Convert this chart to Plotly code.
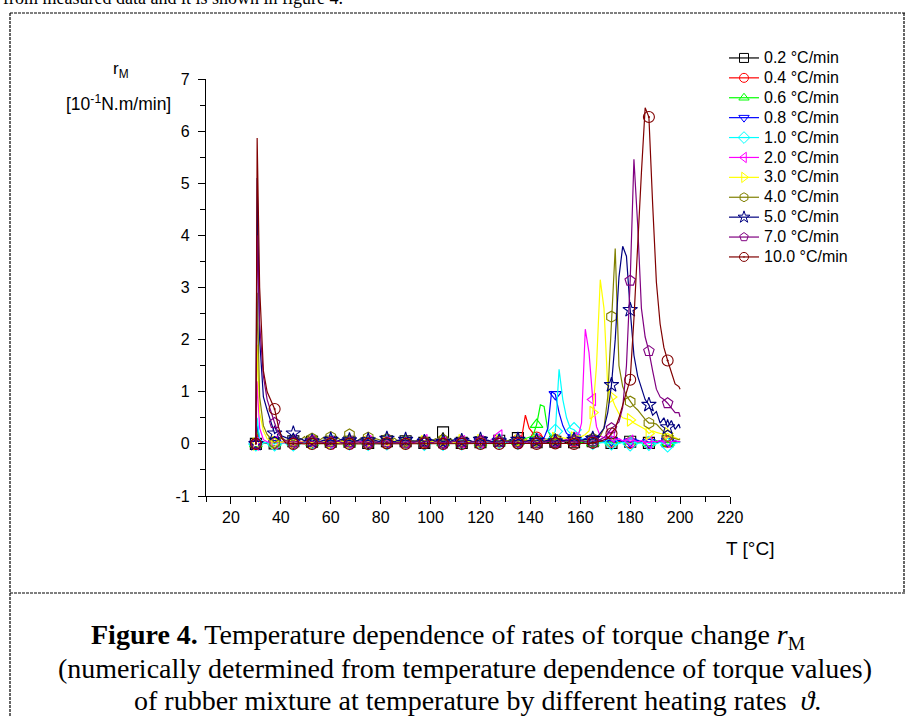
import plotly.graph_objects as go

# temperature grid [°C]; symbols are drawn every 7.5 °C
T = [30, 30.5] + [31.5 + 1.5 * k for k in range(113)] + [200]
MARKER_IDX = [0] + [5 * j + 1 for j in range(1, 23)]

LABELS = ['0.2 °C/min', '0.4 °C/min', '0.6 °C/min', '0.8 °C/min', '1.0 °C/min', '2.0 °C/min',
          '3.0 °C/min', '4.0 °C/min', '5.0 °C/min', '7.0 °C/min', '10.0 °C/min']

Y_TICKS = [-1, 0, 1, 2, 3, 4, 5, 6, 7]
Y_TICKTEXT = ['-1', '0', '1', '2', '3', '4', '5', '6', '7']

r_02 = [0, 0.12, 0.05, 0.03, 0.02, 0.02, 0.01, 0.03, 0.02, 0.04,
        0.03, 0.05, 0.02, 0.04, 0.03, 0.02, 0.04, 0.03, 0.05, 0.02,
        0.03, 0.04, 0.02, 0.05, 0.03, 0.02, 0.04, 0.03, 0.02, 0.05,
        0.03, 0.02, 0.04, 0.06, 0.03, 0.02, 0.05, 0.03, 0.04, 0.02,
        0.03, 0.05, 0.02, 0.04, 0.03, 0.06, 0.02, 0.04, 0.03, 0.05,
        0.08, 0.22, 0.04, 0.1, 0.03, 0.09, 0.02, 0.05, 0.03, 0.04,
        0.02, 0.03, 0.05, 0.02, 0.04, 0.03, 0.06, 0.04, 0.05, 0.08,
        0.03, 0.11, 0.05, 0.09, 0.04, 0.08, 0.03, 0.05, 0.04, 0.03,
        0.02, 0.04, 0.03, 0.05, 0.02, 0.04, 0.03, 0.05, 0.02, 0.04,
        0.03, 0.05, 0.02, 0.04, 0.03, 0.06, 0.02, 0.04, 0.03, 0.05,
        0.02, 0.04, 0.03, 0.05, 0.03, 0.04, 0.02, 0.05, 0.03, 0.04,
        0.03, 0.05, 0.02, 0.04, 0.03, 0.04]
r_04 = [0, 0.2, 0.04, 0.02, 0.01, 0.02, 0.01, 0.02, 0.03, 0.02,
        0.04, 0.02, 0.03, 0.05, 0.02, 0.03, 0.04, 0.02, 0.03, 0.05,
        0.02, 0.04, 0.03, 0.02, 0.05, 0.03, 0.04, 0.02, 0.03, 0.04,
        0.02, 0.05, 0.03, 0.04, 0.02, 0.06, 0.03, 0.02, 0.04, 0.03,
        0.05, 0.02, 0.04, 0.03, 0.02, 0.05, 0.03, 0.04, 0.02, 0.03,
        0.04, 0.02, 0.05, 0.03, 0.04, 0.02, 0.03, 0.05, 0.02, 0.04,
        0.03, 0.02, 0.04, 0.03, 0.05, 0.02, 0.04, 0.06, 0.03, 0.05,
        0.04, 0.07, 0.12, 0.55, 0.3, 0.2, 0.12, 0.16, 0.1, 0.08,
        0.06, 0.08, 0.05, 0.07, 0.04, 0.06, 0.05, 0.03, 0.06, 0.04,
        0.05, 0.03, 0.04, 0.06, 0.03, 0.05, 0.04, 0.02, 0.05, 0.03,
        0.04, 0.02, 0.05, 0.03, 0.04, 0.06, 0.02, 0.04, 0.03, 0.05,
        0.03, 0.04, 0.02, 0.05, 0.03, 0.04]
r_06 = [0, 0.3, 0.05, 0.02, 0.03, 0.01, 0.02, 0.03, 0.02, 0.04,
        0.02, 0.03, 0.05, 0.02, 0.03, 0.04, 0.02, 0.05, 0.03, 0.02,
        0.04, 0.03, 0.05, 0.02, 0.04, 0.03, 0.02, 0.05, 0.03, 0.04,
        0.02, 0.03, 0.05, 0.02, 0.04, 0.03, 0.06, 0.02, 0.04, 0.03,
        0.02, 0.05, 0.03, 0.04, 0.02, 0.03, 0.05, 0.02, 0.04, 0.03,
        0.05, 0.02, 0.04, 0.03, 0.02, 0.05, 0.03, 0.04, 0.02, 0.03,
        0.04, 0.02, 0.05, 0.03, 0.04, 0.06, 0.03, 0.05, 0.04, 0.06,
        0.05, 0.04, 0.08, 0.1, 0.12, 0.15, 0.37, 0.75, 0.72, 0.25,
        0.12, 0.08, 0.1, 0.06, 0.05, 0.07, 0.04, 0.06, 0.03, 0.05,
        0.04, 0.02, 0.05, 0.03, 0.04, 0.06, 0.03, 0.05, 0.02, 0.04,
        0.03, 0.05, 0.02, 0.04, 0.03, 0.05, 0.02, 0.04, 0.06, 0.03,
        0.05, 0.02, 0.04, 0.03, 0.05, 0.04]
r_08 = [0, 0.4, 0.06, 0.03, 0.02, 0.03, 0.01, 0.02, 0.04, 0.02,
        0.03, 0.02, 0.04, 0.03, 0.05, 0.02, 0.03, 0.04, 0.02, 0.05,
        0.03, 0.02, 0.04, 0.03, 0.05, 0.02, 0.03, 0.04, 0.06, 0.02,
        0.04, 0.03, 0.02, 0.05, 0.03, 0.04, 0.02, 0.06, 0.03, 0.04,
        0.02, 0.05, 0.03, 0.02, 0.04, 0.03, 0.05, 0.02, 0.04, 0.03,
        0.06, 0.02, 0.04, 0.03, 0.05, 0.02, 0.04, 0.03, 0.02, 0.05,
        0.03, 0.04, 0.02, 0.05, 0.03, 0.04, 0.06, 0.03, 0.05, 0.04,
        0.06, 0.03, 0.05, 0.04, 0.06, 0.05, 0.07, 0.09, 0.12, 0.3,
        1.0, 0.95, 0.6, 0.35, 0.2, 0.15, 0.12, 0.1, 0.08, 0.1,
        0.07, 0.09, 0.06, 0.08, 0.05, 0.07, 0.06, 0.04, 0.07, 0.05,
        0.06, 0.04, 0.05, 0.07, 0.04, 0.06, 0.03, 0.05, 0.04, 0.06,
        0.03, 0.05, 0.04, 0.06, 0.04, 0.05]
r_10 = [0, 0.5, 0.08, 0.03, 0.02, 0.01, 0.0, 0.02, 0.01, 0.03,
        0.02, 0.0, 0.03, 0.02, 0.04, 0.01, 0.03, 0.02, 0.0, 0.03,
        0.02, 0.04, 0.01, 0.03, 0.02, 0.05, 0.02, 0.01, 0.03, 0.02,
        0.04, 0.01, 0.03, 0.02, 0.0, 0.03, 0.02, 0.04, 0.01, 0.03,
        0.02, 0.03, 0.01, 0.04, 0.02, 0.03, 0.01, 0.02, 0.04, 0.02,
        0.03, 0.01, 0.04, 0.02, 0.03, 0.01, 0.02, 0.04, 0.02, 0.03,
        0.01, 0.03, 0.02, 0.04, 0.02, 0.03, 0.05, 0.02, 0.04, 0.03,
        0.05, 0.03, 0.04, 0.06, 0.04, 0.05, 0.07, 0.06, 0.08, 0.1,
        0.15, 0.24, 1.43, 0.85, 0.5, 0.3, 0.27, 0.2, 0.1, 0.06,
        0.05, 0.03, 0.04, 0.02, 0.03, 0.01, 0.02, -0.02, 0.01, 0.03,
        0.02, 0.0, 0.03, 0.01, 0.02, 0.04, 0.01, 0.02, 0.0, 0.03,
        0.01, -0.02, 0.02, 0.01, 0.03, 0.02]
r_20 = [0, 1.2, 0.3, 0.08, 0.04, 0.02, 0.03, 0.05, 0.02, 0.04,
        0.03, 0.05, 0.02, 0.04, 0.06, 0.03, 0.05, 0.02, 0.04, 0.03,
        0.05, 0.02, 0.04, 0.06, 0.03, 0.05, 0.02, 0.04, 0.03, 0.05,
        0.02, 0.04, 0.03, 0.05, 0.02, 0.04, 0.06, 0.03, 0.05, 0.02,
        0.04, 0.03, 0.05, 0.02, 0.04, 0.03, 0.06, 0.02, 0.04, 0.03,
        0.05, 0.02, 0.04, 0.03, 0.05, 0.02, 0.04, 0.06, 0.03, 0.05,
        0.02, 0.04, 0.03, 0.05, 0.08, 0.12, 0.15, 0.08, 0.05, 0.04,
        0.06, 0.03, 0.05, 0.04, 0.06, 0.05, 0.07, 0.05, 0.08, 0.06,
        0.07, 0.05, 0.08, 0.06, 0.09, 0.07, 0.1, 0.12, 0.4, 2.2,
        1.75, 0.85, 0.33, 0.15, 0.12, 0.1, 0.15, 0.08, 0.1, 0.06,
        0.08, 0.05, 0.07, 0.04, 0.06, 0.03, 0.03, 0.05, 0.04, 0.06,
        0.03, 0.05, 0.04, 0.06, 0.04, 0.05]
r_30 = [0, 1.9, 0.6, 0.25, 0.1, 0.05, 0.03, 0.05, 0.03, 0.06,
        0.04, 0.02, 0.05, 0.03, 0.06, 0.04, 0.02, 0.05, 0.03, 0.04,
        0.06, 0.03, 0.05, 0.02, 0.04, 0.06, 0.03, 0.05, 0.04, 0.02,
        0.05, 0.03, 0.06, 0.04, 0.02, 0.05, 0.03, 0.04, 0.06, 0.03,
        0.05, 0.02, 0.04, 0.06, 0.03, 0.05, 0.04, 0.02, 0.05, 0.03,
        0.06, 0.04, 0.03, 0.05, 0.02, 0.04, 0.06, 0.03, 0.05, 0.04,
        0.03, 0.06, 0.04, 0.05, 0.03, 0.07, 0.05, 0.04, 0.06, 0.05,
        0.07, 0.05, 0.06, 0.08, 0.06, 0.07, 0.05, 0.08, 0.06, 0.09,
        0.07, 0.1, 0.08, 0.12, 0.1, 0.13, 0.11, 0.15, 0.14, 0.18,
        0.25, 0.6, 1.5, 3.15, 2.6, 1.1, 0.9, 0.72, 0.58, 0.5,
        0.48, 0.46, 0.4, 0.36, 0.33, 0.28, 0.2, 0.25, 0.22, 0.2,
        0.18, 0.2, 0.15, 0.12, 0.1, 0.08]
r_40 = [0, 2.9, 0.9, 0.35, 0.18, 0.1, 0.02, 0.08, 0.12, 0.06,
        0.1, 0.05, 0.12, 0.08, 0.14, 0.06, 0.1, 0.15, 0.07, 0.12,
        0.05, 0.13, 0.08, 0.11, 0.06, 0.12, 0.18, 0.09, 0.05, 0.11,
        0.07, 0.12, 0.05, 0.1, 0.08, 0.04, 0.09, 0.06, 0.11, 0.05,
        0.08, 0.06, 0.1, 0.04, 0.07, 0.09, 0.05, 0.08, 0.06, 0.1,
        0.05, 0.08, 0.06, 0.09, 0.04, 0.07, 0.05, 0.08, 0.06, 0.04,
        0.07, 0.05, 0.08, 0.06, 0.04, 0.07, 0.05, 0.08, 0.06, 0.05,
        0.07, 0.05, 0.08, 0.06, 0.05, 0.07, 0.06, 0.08, 0.05, 0.07,
        0.06, 0.08, 0.05, 0.07, 0.06, 0.08, 0.07, 0.09, 0.06, 0.08,
        0.07, 0.1, 0.08, 0.15, 0.3, 0.9, 2.44, 3.75, 1.5, 1.1,
        0.92, 0.81, 0.72, 0.65, 0.55, 0.47, 0.4, 0.4, 0.38, 0.3,
        0.22, 0.15, 0.12, 0.1, 0.08, 0.1]
r_50 = [0, 5.1, 2.0, 0.9, 0.65, 0.42, 0.2, 0.25, 0.15, 0.12,
        0.1, 0.2, 0.08, 0.1, 0.06, 0.09, 0.05, 0.08, 0.04, 0.07,
        0.05, 0.08, 0.04, 0.06, 0.09, 0.05, 0.07, 0.04, 0.06, 0.08,
        0.05, 0.07, 0.04, 0.06, 0.05, 0.08, 0.1, 0.06, 0.04, 0.07,
        0.05, 0.08, 0.04, 0.06, 0.05, 0.07, 0.04, 0.06, 0.08, 0.05,
        0.07, 0.04, 0.06, 0.05, 0.08, 0.04, 0.06, 0.05, 0.07, 0.04,
        0.06, 0.08, 0.05, 0.07, 0.04, 0.06, 0.05, 0.07, 0.04, 0.06,
        0.05, 0.08, 0.06, 0.04, 0.07, 0.05, 0.06, 0.08, 0.05, 0.07,
        0.06, 0.05, 0.08, 0.06, 0.07, 0.05, 0.08, 0.06, 0.07, 0.09,
        0.08, 0.1, 0.12, 0.2, 0.3, 0.6, 1.13, 2.0, 3.2, 3.79,
        3.6, 2.57, 1.7, 1.3, 1.05, 0.85, 0.75, 0.55, 0.62, 0.4,
        0.5, 0.32, 0.45, 0.28, 0.38, 0.3]
r_70 = [0, 4.0, 2.3, 1.3, 0.85, 0.6, 0.4, 0.2, 0.1, 0.06,
        0.04, 0.03, 0.05, 0.02, 0.04, 0.03, 0.05, 0.02, 0.04, 0.03,
        0.02, 0.04, 0.03, 0.05, 0.02, 0.04, 0.03, 0.02, 0.04, 0.03,
        0.05, 0.02, 0.04, 0.03, 0.02, 0.05, 0.03, 0.04, 0.02, 0.03,
        0.04, 0.02, 0.05, 0.03, 0.04, 0.02, 0.03, 0.05, 0.02, 0.04,
        0.03, 0.02, 0.04, 0.03, 0.05, 0.02, 0.04, 0.03, 0.02, 0.04,
        0.03, 0.05, 0.02, 0.04, 0.03, 0.02, 0.04, 0.03, 0.05, 0.02,
        0.04, 0.03, 0.02, 0.04, 0.03, 0.05, 0.02, 0.04, 0.03, 0.05,
        0.04, 0.03, 0.05, 0.04, 0.06, 0.04, 0.05, 0.03, 0.06, 0.04,
        0.05, 0.06, 0.05, 0.08, 0.12, 0.2, 0.3, 0.35, 0.42, 0.7,
        1.5, 3.13, 5.46, 4.2, 2.6, 2.05, 1.78, 1.4, 1.05, 0.9,
        0.85, 0.78, 0.68, 0.6, 0.6, 0.52]
r_100 = [0, 5.87, 3.0, 1.4, 1.0, 0.82, 0.67, 0.33, 0.1, 0.02,
         0.01, 0.0, 0.01, 0.0, 0.0, 0.01, 0.0, 0.0, 0.01, 0.0,
         0.0, 0.0, 0.01, 0.0, 0.0, 0.01, 0.0, 0.0, 0.0, 0.01,
         0.0, 0.0, 0.01, 0.0, 0.0, 0.0, 0.01, 0.0, 0.0, 0.01,
         0.0, 0.0, 0.0, 0.01, 0.0, 0.0, 0.01, 0.0, 0.0, 0.0,
         0.01, 0.0, 0.0, 0.01, 0.0, 0.0, 0.0, 0.01, 0.0, 0.0,
         0.01, 0.0, 0.0, 0.0, 0.01, 0.0, 0.0, 0.01, 0.0, 0.0,
         0.0, 0.01, 0.0, 0.0, 0.01, 0.0, 0.0, 0.0, 0.01, 0.0,
         0.0, 0.01, 0.0, 0.0, 0.0, 0.01, 0.0, 0.0, 0.01, 0.0,
         0.01, 0.02, 0.03, 0.05, 0.08, 0.1, 0.2, 0.3, 0.5, 0.75,
         0.95, 1.23, 2.4, 3.9, 5.2, 6.45, 6.27, 4.6, 3.1, 2.3,
         1.85, 1.6, 1.35, 1.15, 1.1, 1.05]

SERIES = [r_02, r_04, r_06, r_08, r_10, r_20, r_30, r_40, r_50, r_70, r_100]

COLORS = ['#000000', '#FF0000', '#00FF00', '#0000FF', '#00FFFF', '#FF00FF',
          '#FFFF00', '#808000', '#000080', '#800080', '#800000']
SYMBOLS = ['square-open', 'circle-open', 'triangle-up-open', 'triangle-down-open',
           'diamond-open', 'triangle-left-open', 'triangle-right-open', 'hexagon-open',
           'star-open', 'pentagon-open', 'circle-open-dot']

# plot area in page pixels
W, H = 906, 716
L, R, TOP, BOT = 206, 730, 79, 496


def px(x):
    return (x - L) / (R - L)


def py(y):
    return (BOT - y) / (BOT - TOP)


SANS = 'Liberation Sans, Arial, sans-serif'
SERIF = 'Liberation Serif, Times New Roman, serif'

fig = go.Figure()

for vals, name, color, sym in zip(SERIES, LABELS, COLORS, SYMBOLS):
    fig.add_trace(go.Scatter(
        x=T, y=vals, mode='lines', line=dict(color=color, width=1.2),
        showlegend=False, hoverinfo='skip'
    ))
    fig.add_trace(go.Scatter(
        x=[T[i] for i in MARKER_IDX], y=[vals[i] for i in MARKER_IDX],
        mode='markers', showlegend=False,
        marker=dict(symbol=sym, size=11, color=color, line=dict(width=1.1, color=color))
    ))
    # legend entry only
    fig.add_trace(go.Scatter(
        x=[None], y=[None], mode='lines+markers',
        name='<span style="font-size:16px">%s</span>' % name,
        line=dict(color=color, width=1.2),
        marker=dict(symbol=sym, size=9, color=color, line=dict(width=1, color=color))
    ))

axis_common = dict(
    showline=True, linecolor='black', linewidth=1.3, mirror=False,
    ticks='outside', ticklen=7, tickwidth=1.2, tickcolor='black',
    showgrid=False, zeroline=False,
    tickfont=dict(family=SANS, size=16, color='black'),
)
fig.update_xaxes(range=[10, 220], dtick=20, tick0=0,
                 minor=dict(dtick=10, ticks='outside', ticklen=5, tickcolor='black', showgrid=False),
                 **axis_common)
fig.update_yaxes(range=[-1, 7], tickmode='array', tickvals=Y_TICKS, ticktext=Y_TICKTEXT,
                 ticklabelstandoff=5,
                 minor=dict(dtick=0.5, ticks='outside', ticklen=5, tickcolor='black', showgrid=False),
                 **axis_common)

annotations = [
    dict(x=px(121), y=py(70), text='r<sub>M</sub>', font=dict(family=SANS, size=17)),
    dict(x=px(118), y=py(103), text='[10<sup>-1</sup>N.m/min]', font=dict(family=SANS, size=17.5)),
    dict(x=px(750), y=py(548), text='T [°C]', font=dict(family=SANS, size=19)),
    dict(x=px(1), y=py(10), text='from measured data and it is shown in figure 4.',
         xanchor='left', yanchor='bottom', font=dict(family=SERIF, size=18)),
    dict(x=px(448), y=py(636),
         text='<b>Figure 4.</b> Temperature dependence of rates of torque change <i>r</i><sub>M</sub>',
         font=dict(family=SERIF, size=28)),
    dict(x=px(465), y=py(668),
         text='(numerically determined from temperature dependence of torque values)',
         font=dict(family=SERIF, size=28)),
    dict(x=px(477), y=py(700),
         text='of rubber mixture at temperature by different heating rates  <i>ϑ</i>.',
         font=dict(family=SERIF, size=28)),
]
for a in annotations:
    a.update(xref='paper', yref='paper', showarrow=False)
    a.setdefault('xanchor', 'center')
    a.setdefault('yanchor', 'middle')
    a['font'].setdefault('color', 'black')

frame = dict(color='black', width=1.2, dash='3px,1px')
shapes = [
    dict(type='line', x0=px(10), x1=px(906), y0=py(13), y1=py(13), line=frame),
    dict(type='line', x0=px(10), x1=px(10), y0=py(13), y1=py(716), line=frame),
    dict(type='line', x0=px(904), x1=px(904), y0=py(13), y1=py(593), line=frame),
    dict(type='line', x0=px(10), x1=px(906), y0=py(593), y1=py(593), line=frame),
]
for s in shapes:
    s.update(xref='paper', yref='paper')

fig.update_layout(
    width=W, height=H,
    margin=dict(l=L, r=W - R, t=TOP, b=H - BOT),
    plot_bgcolor='white', paper_bgcolor='white',
    showlegend=True,
    legend=dict(x=px(724), y=py(43), xanchor='left', yanchor='top',
                font=dict(family=SANS, size=13, color='black'),
                bgcolor='rgba(0,0,0,0)', tracegroupgap=0),
    annotations=annotations,
    shapes=shapes,
)

# the page sits flush with the window so the frame lines up with the scan
fig.write_html('out.html', config={'displayModeBar': False},
               post_script="document.body.style.margin='0';")
